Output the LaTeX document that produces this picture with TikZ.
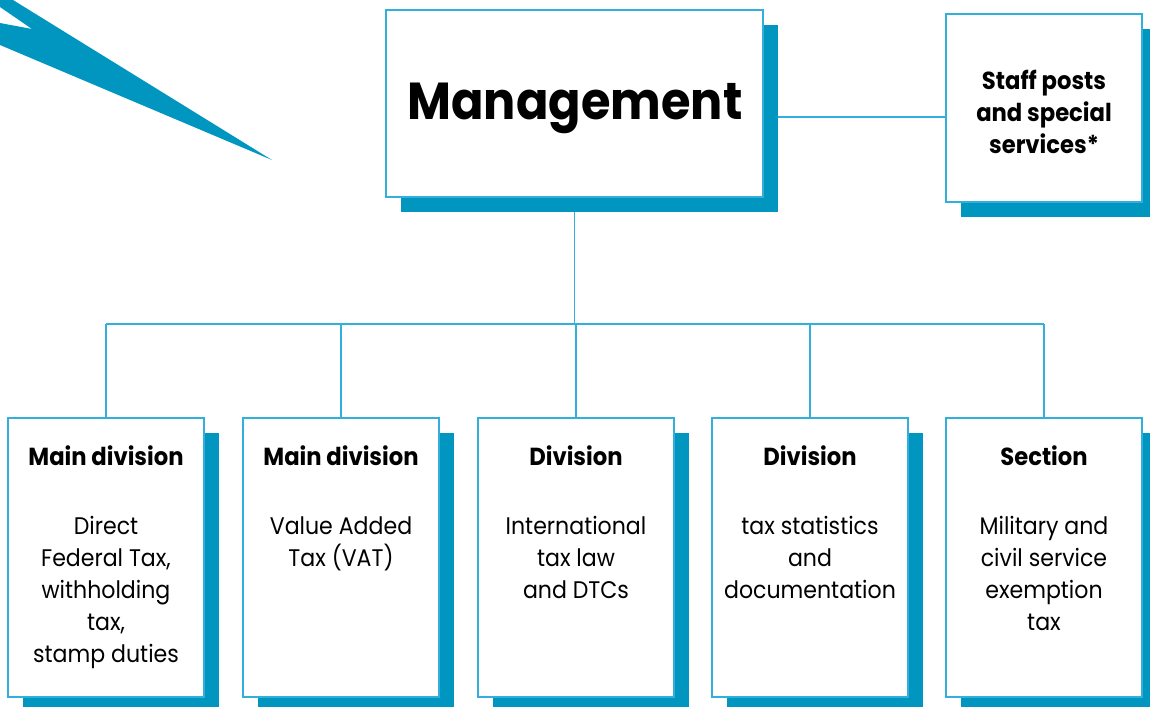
\documentclass[tikz,border=0pt]{standalone}
\usepackage{fontspec}
\setmainfont{Poppins}[FakeStretch=0.92]
\usepackage{tikz}
\usetikzlibrary{positioning,calc,shadows,backgrounds}
\definecolor{lineblue}{RGB}{50,175,220}
\definecolor{shadeblue}{RGB}{0,150,192}

\begin{document}
\begin{tikzpicture}[x=0.75pt,y=-0.75pt,
    line/.style={draw=lineblue,line width=1.1pt},
    unit/.style={line,fill=white,inner sep=0pt,
      drop shadow={shadow xshift=11.25pt,shadow yshift=-11.25pt,fill=shadeblue,opacity=1}},
    divbox/.style={unit,minimum width=147pt,minimum height=209.25pt},
    headtext/.style={font=\bfseries\fontsize{18.5}{24}\selectfont,inner sep=0pt},
    bodytext/.style={font=\fontsize{18}{24}\selectfont,align=center,inner sep=0pt}]
  \useasboundingbox (0,0) rectangle (1150,707);
  \clip (0,0) rectangle (1150,707);
  % pointer in the corner
  \fill[shadeblue] (0,0) -- (13,0) -- (272,160) -- (0,45) -- (0,23) -- (32,29) -- (0,7) -- cycle;

  % top level
  \node[unit,minimum width=282.75pt,minimum height=140.25pt] (mgmt) at (574.5,103.5) {};
  \node[anchor=base,inner sep=0pt,font=\bfseries\fontsize{39}{44}\selectfont] (mgmtlabel) at (575,119) {Management};
  \node[unit,minimum width=147pt,minimum height=141pt] (staff) at (1044,108) {};
  \node[headtext,align=center,anchor=north] (stafflabel) at (1044,70) {Staff posts\\and special\\services*};

  % divisions
  \foreach \i/\x/\head/\body in {
      1/106/Main division/{Direct\\Federal Tax,\\withholding\\tax,\\stamp duties},
      2/341/Main division/{Value Added\\Tax (VAT)},
      3/576/Division/{International\\tax law\\and DTCs},
      4/810/Division/{tax statistics\\and\\documentation},
      5/1044/Section/{Military and\\civil service\\exemption\\tax}}{
    \node[divbox] (d\i) at (\x,557.5) {};
    \node[headtext,anchor=base] (h\i) at (\x,465) {\head};
    \node[bodytext,anchor=north] (b\i) at (\x,516) {\body};
  }

  % connectors
  \coordinate (bus) at (0,324);
  \coordinate (tap) at (763,117);
  \begin{scope}[on background layer]
    \draw[line] (mgmt.south) -- (mgmt.south|-bus);
    \draw[line] (d1.north|-bus) -- (d5.north|-bus);
    \foreach \i in {1,...,5} \draw[line] (d\i.north|-bus) -- (d\i.north);
    \draw[line] (tap) -- (tap-|staff.west);
  \end{scope}
\end{tikzpicture}
\end{document}
